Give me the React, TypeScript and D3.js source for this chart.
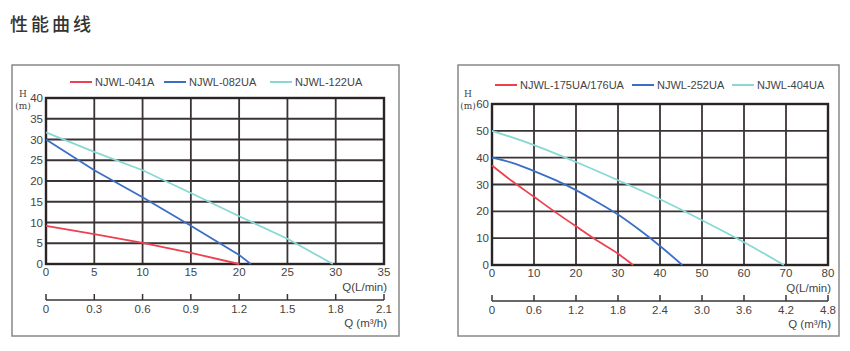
import React, { useEffect, useRef } from 'react';
import * as d3 from 'd3';

// left panel
const leftNames = ['NJWL-041A', 'NJWL-082UA', 'NJWL-122UA'];
const leftRed = [[0, 9.2], [5, 7.2], [10, 5.1], [15, 2.7], [20, 0]];
const leftBlue = [[0, 30], [5, 22.6], [10, 16.1], [15, 9.2], [20, 2.2], [21.2, 0]];
const leftCyan = [[0, 31.7], [5, 27], [10, 22.6], [15, 17.1], [20, 11.5], [25, 6.1], [29.7, 0]];
const leftQTicks = ['0', '0.3', '0.6', '0.9', '1.2', '1.5', '1.8', '2.1'];

// right panel
const rightNames = ['NJWL-175UA/176UA', 'NJWL-252UA', 'NJWL-404UA'];
const rightRed = [[0, 37.1], [5, 31], [10, 25.4], [15, 19.8], [20, 14.4], [25, 9.1], [30, 4.2], [33.6, 0]];
const rightBlue = [[0, 40], [5, 38], [10, 35], [15, 31.7], [20, 27.9], [25, 23.5], [30, 18.8], [35, 13.2], [40, 7.1], [45.3, 0]];
const rightCyan = [[0, 50], [10, 44.7], [20, 38.4], [30, 31.6], [40, 24.5], [50, 16.7], [60, 8.5], [69.5, 0]];
const rightQTicks = ['0', '0.6', '1.2', '1.8', '2.4', '3.0', '3.6', '4.2', '4.8'];

const colors = ['#ee4050', '#3b6fc6', '#88d8d5'];
const font = 'Liberation Sans, Arial, sans-serif';
const textColor = '#444';

const panels = [
  {
    frame: [12, 65, 399, 336],
    plot: [46, 98, 384, 264],
    xMax: 35, xStep: 5, yMax: 40, yStep: 5,
    names: leftNames, series: [leftRed, leftBlue, leftCyan], qTicks: leftQTicks,
    legendY: 82, legendX: [70, 164, 270], hX: 23,
    curve: d3.curveLinear,
  },
  {
    frame: [458, 65, 839, 336],
    plot: [492, 104, 828, 265],
    xMax: 80, xStep: 10, yMax: 60, yStep: 10,
    names: rightNames, series: [rightRed, rightBlue, rightCyan], qTicks: rightQTicks,
    legendY: 85, legendX: [495, 632, 732], hX: 468,
    curve: d3.curveMonotoneX,
  },
];

const App = () => {
  const svgRef = useRef(null);

  useEffect(() => {
    const svg = d3.select(svgRef.current);
    svg.selectAll('*').remove();

    svg.append('text')
      .attr('x', 10).attr('y', 31)
      .attr('font-family', 'Noto Sans CJK SC, sans-serif')
      .attr('font-size', 18).attr('font-weight', 500)
      .attr('letter-spacing', 3)
      .attr('fill', '#333')
      .text('性能曲线');

    panels.forEach(p => {
      const g = svg.append('g');
      const [fx0, fy0, fx1, fy1] = p.frame;
      g.append('rect')
        .attr('x', fx0).attr('y', fy0)
        .attr('width', fx1 - fx0).attr('height', fy1 - fy0)
        .attr('fill', 'none').attr('stroke', '#888').attr('stroke-width', 1.5);

      const [px0, py0, px1, py1] = p.plot;
      const x = d3.scaleLinear().domain([0, p.xMax]).range([px0, px1]);
      const y = d3.scaleLinear().domain([0, p.yMax]).range([py1, py0]);
      const xt = d3.range(0, p.xMax + 0.001, p.xStep);
      const yt = d3.range(0, p.yMax + 0.001, p.yStep);

      // grid
      g.selectAll('.vg').data(xt).enter().append('line')
        .attr('x1', d => x(d)).attr('x2', d => x(d))
        .attr('y1', py0).attr('y2', py1)
        .attr('stroke', '#3a3335').attr('stroke-width', 1.8);
      g.selectAll('.hg').data(yt).enter().append('line')
        .attr('x1', px0).attr('x2', px1)
        .attr('y1', d => y(d)).attr('y2', d => y(d))
        .attr('stroke', '#3a3335').attr('stroke-width', 1.8);
      g.append('rect')
        .attr('x', px0).attr('y', py0)
        .attr('width', px1 - px0).attr('height', py1 - py0)
        .attr('fill', 'none').attr('stroke', '#2a2425').attr('stroke-width', 2.4);

      // y labels
      g.selectAll('.yl').data(yt).enter().append('text')
        .attr('x', px0 - 3).attr('y', d => y(d) + 4)
        .attr('text-anchor', 'end')
        .attr('font-family', font).attr('font-size', 11.5).attr('fill', textColor)
        .text(d => d);
      g.append('text')
        .attr('x', p.hX).attr('y', 97)
        .attr('font-family', 'DejaVu Serif, serif').attr('font-size', 9)
        .attr('fill', textColor).attr('text-anchor', 'middle')
        .text('H');
      g.append('text')
        .attr('x', p.hX).attr('y', 109)
        .attr('font-family', 'DejaVu Serif, serif').attr('font-size', 9)
        .attr('fill', textColor).attr('text-anchor', 'middle')
        .text('(m)');

      // x labels
      g.selectAll('.xl').data(xt).enter().append('text')
        .attr('x', d => x(d)).attr('y', py1 + 12)
        .attr('text-anchor', 'middle')
        .attr('font-family', font).attr('font-size', 11.5).attr('fill', textColor)
        .text(d => d);
      g.append('text')
        .attr('x', px1 + 3).attr('y', py1 + 27)
        .attr('text-anchor', 'end')
        .attr('font-family', font).attr('font-size', 11.5).attr('fill', textColor)
        .text('Q(L/min)');

      // second Q axis (m³/h)
      const ax = py1 + 36;
      const q = d3.scaleLinear().domain([0, p.qTicks.length - 1]).range([px0, px1]);
      g.append('line')
        .attr('x1', px0).attr('x2', px1).attr('y1', ax).attr('y2', ax)
        .attr('stroke', '#3a3335').attr('stroke-width', 1.5);
      g.selectAll('.qt').data(p.qTicks).enter().append('line')
        .attr('x1', (d, i) => q(i)).attr('x2', (d, i) => q(i))
        .attr('y1', ax - 6).attr('y2', ax)
        .attr('stroke', '#3a3335').attr('stroke-width', 1.5);
      g.selectAll('.ql').data(p.qTicks).enter().append('text')
        .attr('x', (d, i) => q(i)).attr('y', ax + 13)
        .attr('text-anchor', 'middle')
        .attr('font-family', font).attr('font-size', 11.5).attr('fill', textColor)
        .text(d => d);
      g.append('text')
        .attr('x', px1 + 3).attr('y', ax + 27)
        .attr('text-anchor', 'end')
        .attr('font-family', font).attr('font-size', 11.5).attr('fill', textColor)
        .text('Q (m³/h)');

      // curves
      const line = d3.line()
        .x(d => x(d[0]))
        .y(d => y(d[1]))
        .curve(p.curve);
      p.series.forEach((s, i) => {
        g.append('path')
          .datum(s)
          .attr('fill', 'none')
          .attr('stroke', colors[i])
          .attr('stroke-width', 1.8)
          .attr('d', line);
      });

      // legend
      p.names.forEach((n, i) => {
        const lx = p.legendX[i];
        g.append('line')
          .attr('x1', lx).attr('x2', lx + 22)
          .attr('y1', p.legendY).attr('y2', p.legendY)
          .attr('stroke', colors[i]).attr('stroke-width', 2);
        g.append('text')
          .attr('x', lx + 25).attr('y', p.legendY + 4)
          .attr('font-family', font).attr('font-size', 11).attr('fill', textColor)
          .text(n);
      });
    });
  }, []);

  return (
    <svg ref={svgRef} width={850} height={351}
      style={{ position: 'absolute', left: 0, top: 0, background: '#fff' }} />
  );
};

export default App;
